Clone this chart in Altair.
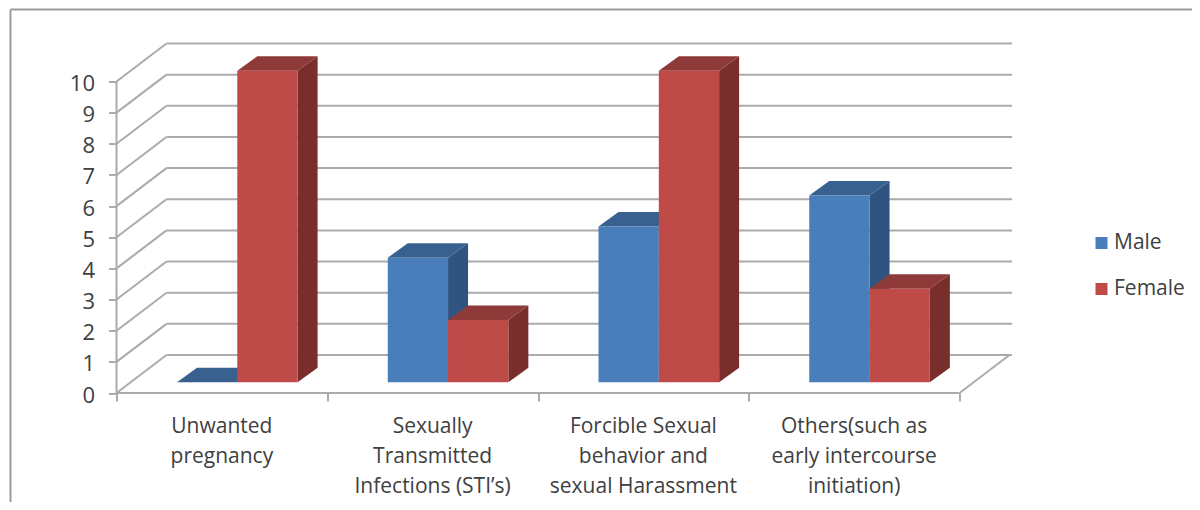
import altair as alt
import pandas as pd

categories = ["Unwanted\npregnancy", "Sexually\nTransmitted\nInfections (STI’s)",
              "Forcible Sexual\nbehavior and\nsexual Harassment",
              "Others(such as\nearly intercourse\ninitiation)"]
male = [0, 4, 5, 6]
female = [10, 2, 10, 3]
y_ticks = [0, 1, 2, 3, 4, 5, 6, 7, 8, 9, 10]
x_ticks = [0, 1, 2, 3, 4]
series_names = ["Male", "Female"]
front_colors = ["#4A7EBB", "#BE4B48"]
top_colors = ["#39618F", "#8E3A38"]
side_colors = ["#2F5480", "#7A2E2C"]

FONT = "Open Sans"
GRID = "#ABABAB"
TEXT = "#404040"
PX_X, PX_Y = 210.75, 31.15
WALL_DX, WALL_DY = 50 / PX_X, 38 / PX_Y
BAR_W = 60.3 / PX_X
BAR_START = 60.5 / PX_X
BASE = 10.7 / PX_Y
DEPTH_X, DEPTH_Y = 20 / PX_X, 14.5 / PX_Y
X_MAX = 895.5 / PX_X
Y_MAX = 349.5 / PX_Y
ORIGIN_X, ORIGIN_Y = 116.5, 43.5

xs = alt.Scale(domain=[0, X_MAX], nice=False, zero=False)
ys = alt.Scale(domain=[0, Y_MAX], nice=False, zero=False)
x_axis = alt.Axis(values=x_ticks, labels=False, domain=False, grid=False,
                  tickSize=8, tickColor=GRID, tickWidth=2, title=None)
y_axis = alt.Axis(values=y_ticks, domain=False, grid=False, tickSize=8, tickColor=GRID,
                  tickWidth=2, labelFont=FONT, labelFontSize=22, labelColor=TEXT,
                  labelPadding=14, labelOffset=2, title=None)


def X(f, **k):
    return alt.X(f, type="quantitative", scale=xs, axis=x_axis, **k)


def Y(f, **k):
    return alt.Y(f, type="quantitative", scale=ys, axis=y_axis, **k)


grid = pd.DataFrame({"v": y_ticks})
grid["y"] = grid.v + WALL_DY
grid["x0"] = WALL_DX
grid["x1"] = X_MAX
grid["dx0"] = 0.0
wall_lines = alt.Chart(grid).mark_rule(color=GRID, strokeWidth=2).encode(
    x=X("x0:Q"), x2="x1:Q", y=Y("y:Q"))
diagonals = alt.Chart(grid).mark_rule(color=GRID, strokeWidth=2).encode(
    x=X("dx0:Q"), x2="x0:Q", y=Y("v:Q"), y2="y:Q")

floor = pd.DataFrame({"x": [0.0, 4.0], "y": [0.0, 0.0], "x2": [4.0, 4.0 + WALL_DX],
                      "y2": [0.0, WALL_DY]})
floor_lines = alt.Chart(floor).mark_rule(color=GRID, strokeWidth=2).encode(
    x=X("x:Q"), x2="x2:Q", y=Y("y:Q"), y2="y2:Q")
y_line = pd.DataFrame({"x": [0.0], "y": [0.0], "y2": [10.0]})
y_axis_line = alt.Chart(y_line).mark_rule(color=GRID, strokeWidth=2).encode(
    x=X("x:Q"), y=Y("y:Q"), y2="y2:Q")

layers = [wall_lines, diagonals, floor_lines, y_axis_line]

color_scale = alt.Scale(domain=series_names, range=front_colors)

for s, (name, values) in enumerate(zip(series_names, [male, female])):
    front, side, top = [], [], []
    for i, v in enumerate(values):
        x0 = i + BAR_START + s * BAR_W
        x1 = x0 + BAR_W
        front.append({"series": name, "x0": x0, "x1": x1, "b": BASE, "t": BASE + v})
        for d in (0, 1):
            side.append({"bar": i, "x": x1 + d * DEPTH_X,
                         "t": BASE + v + d * DEPTH_Y, "b": BASE + d * DEPTH_Y})
            top.append({"bar": i, "y": BASE + v + d * DEPTH_Y,
                        "x0": x0 + d * DEPTH_X, "x1": x1 + d * DEPTH_X})
    layers.append(alt.Chart(pd.DataFrame(side)).mark_area(
        color=side_colors[s], orient="vertical").encode(
        x=X("x:Q"), y=Y("t:Q", stack=None), y2="b:Q", detail="bar:N"))
    layers.append(alt.Chart(pd.DataFrame(top)).mark_area(
        color=top_colors[s], orient="horizontal").encode(
        y=Y("y:Q"), x=X("x0:Q", stack=None), x2="x1:Q", detail="bar:N"))
    layers.append(alt.Chart(pd.DataFrame(front)).mark_rect().encode(
        x=X("x0:Q"), x2="x1:Q", y=Y("b:Q"), y2="t:Q",
        color=alt.Color("series:N", scale=color_scale, title=None, legend=alt.Legend(
            orient="none", legendX=1091 - ORIGIN_X, legendY=232.5 - ORIGIN_Y,
            symbolType="square", symbolSize=144, symbolStrokeWidth=0,
            labelFont=FONT, labelFontSize=21, labelColor=TEXT, rowPadding=24,
            labelOffset=2))))

labels = pd.DataFrame({"x": [i + 0.5 for i in range(len(categories))], "text": categories})
layers.append(alt.Chart(labels).mark_text(
    font=FONT, fontSize=21, color=TEXT, align="center", baseline="top",
    lineBreak="\n", lineHeight=30).encode(
    x=X("x:Q"), y=alt.value(416 - ORIGIN_Y), text="text:N"))

frame_top = alt.Chart(pd.DataFrame({"k": [0]})).mark_rule(color="#9C9C9C", strokeWidth=2).encode(
    x=alt.value(10.5 - ORIGIN_X), x2=alt.value(1200 - ORIGIN_X), y=alt.value(9.5 - ORIGIN_Y))
frame_left = alt.Chart(pd.DataFrame({"k": [0]})).mark_rule(color="#9C9C9C", strokeWidth=2).encode(
    x=alt.value(10.5 - ORIGIN_X), y=alt.value(9.5 - ORIGIN_Y), y2=alt.value(510 - ORIGIN_Y))
layers += [frame_top, frame_left]

chart = alt.layer(*layers).properties(
    width=895.5, height=349.5,
    padding={"left": ORIGIN_X - 8, "top": ORIGIN_Y - 8, "right": 1192 - ORIGIN_X - 895.5,
             "bottom": 502 - ORIGIN_Y - 349.5},
    autosize=alt.AutoSizeParams(type="none"),
    background="white",
).configure_view(stroke=None)

chart.save("out.html", embed_options={"renderer": "svg", "actions": False})
